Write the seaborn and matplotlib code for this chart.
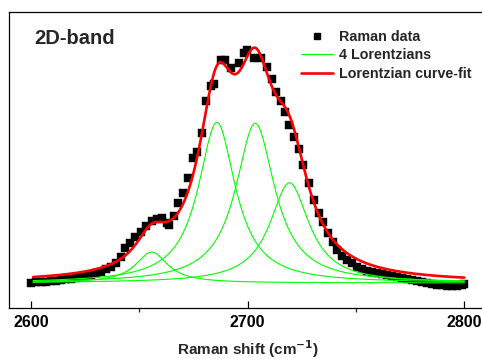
import numpy as np
import pandas as pd
import matplotlib
matplotlib.use("Agg")
import matplotlib.pyplot as plt
from matplotlib.lines import Line2D
from matplotlib.ticker import MultipleLocator
import seaborn as sns

# Measured Raman spectrum of the 2D band (normalised intensity)
raman_shift = [
    2600.0, 2602.3, 2604.6, 2606.9, 2609.2, 2611.5, 2613.8, 2616.1, 2618.4, 2620.7,
    2623.0, 2625.3, 2627.6, 2629.9, 2632.2, 2634.5, 2636.8, 2639.1, 2641.4, 2643.6,
    2645.7, 2648.0, 2650.7, 2653.1, 2655.8, 2658.1, 2660.4, 2662.7, 2663.9, 2666.1,
    2668.0, 2670.1, 2672.4, 2674.7, 2676.5, 2678.8, 2680.8, 2683.0, 2684.5, 2687.6,
    2689.6, 2692.2, 2695.8, 2698.1, 2699.9, 2702.7, 2706.1, 2708.9, 2711.2, 2713.2,
    2715.3, 2717.3, 2718.9, 2721.2, 2723.9, 2725.5, 2728.1, 2730.4, 2732.7, 2735.0,
    2737.3, 2739.6, 2741.2, 2743.5, 2745.8, 2748.1, 2750.4, 2752.7, 2755.0, 2757.3,
    2759.6, 2761.9, 2764.2, 2766.5, 2768.8, 2771.1, 2773.4, 2775.7, 2778.0, 2780.3,
    2782.6, 2784.9, 2787.2, 2789.5, 2791.8, 2794.1, 2796.4, 2798.7, 2800.0,
]
intensity = [
    0.000, 0.002, 0.004, 0.006, 0.008, 0.010, 0.012, 0.015, 0.018, 0.021,
    0.025, 0.029, 0.035, 0.041, 0.048, 0.057, 0.068, 0.082, 0.110, 0.146,
    0.167, 0.192, 0.216, 0.239, 0.262, 0.268, 0.272, 0.253, 0.244, 0.282,
    0.335, 0.377, 0.440, 0.524, 0.552, 0.630, 0.765, 0.829, 0.835, 0.937,
    0.937, 0.902, 0.923, 0.965, 0.979, 0.944, 0.947, 0.909, 0.856, 0.804,
    0.765, 0.718, 0.662, 0.615, 0.562, 0.496, 0.419, 0.349, 0.293, 0.258,
    0.209, 0.174, 0.139, 0.115, 0.097, 0.082, 0.068, 0.060, 0.052, 0.046,
    0.041, 0.037, 0.034, 0.030, 0.026, 0.022, 0.018, 0.014, 0.009, 0.005,
    0.001, -0.004, -0.008, -0.010, -0.012, -0.013, -0.012, -0.008, -0.004,
]

# Fitted Lorentzian components: centre, amplitude, half width at half maximum
peak_centre = [2655.7, 2685.8, 2703.5, 2719.3]
peak_height = [0.130, 0.675, 0.671, 0.421]
peak_hwhm = [9.0, 10.5, 11.0, 11.0]

fit_range = (2601.0, 2800.0)
x_ticks = [2600, 2700, 2800]

sns.set_theme(style="white")
plt.rcParams["font.family"] = ["Liberation Sans", "DejaVu Sans"]
plt.rcParams["font.weight"] = "bold"
plt.rcParams["mathtext.default"] = "bf"

W, H = 482, 359
fig = plt.figure(figsize=(W / 100, H / 100), dpi=100)
left_px, right_px, top_px, bottom_px = 9.3, 486.0, 12.0, 307.7
ax = fig.add_axes([left_px / W, 1 - bottom_px / H,
                   (right_px - left_px) / W, (bottom_px - top_px) / H])

grid = np.linspace(fit_range[0], fit_range[1], 800)
components = []
for c, a, g in zip(peak_centre, peak_height, peak_hwhm):
    components.append(a / (1.0 + ((grid - c) / g) ** 2))
fit_total = np.sum(components, axis=0)

spec = pd.DataFrame({"shift": raman_shift, "intensity": intensity})
comp = pd.DataFrame({
    "shift": np.tile(grid, len(components)),
    "intensity": np.concatenate(components),
    "peak": np.repeat(np.arange(len(components)), len(grid)),
})
fit = pd.DataFrame({"shift": grid, "intensity": fit_total})

sns.scatterplot(data=spec, x="shift", y="intensity", ax=ax, marker="s",
                s=26, color="black", edgecolor="black", linewidth=0.3,
                legend=False, zorder=2)
sns.lineplot(data=comp, x="shift", y="intensity", units="peak",
             estimator=None, ax=ax, color="#00ff00", linewidth=0.8,
             legend=False, zorder=3)
sns.lineplot(data=fit, x="shift", y="intensity", ax=ax, color="#ff0000",
             linewidth=1.9, legend=False, zorder=4)

ax.set_xlim(2590, 2810)
ax.set_ylim(-0.104, 1.139)
ax.set_yticks([])
ax.set_ylabel("")
ax.set_xticks(x_ticks)
ax.set_xticklabels([str(t) for t in x_ticks], fontsize=11.5, fontweight="bold")
ax.xaxis.set_minor_locator(MultipleLocator(50))
ax.tick_params(axis="x", which="major", direction="in", length=5, width=0.9,
               bottom=True, pad=5, colors="black")
ax.tick_params(axis="x", which="minor", direction="out", length=3, width=0.9,
               bottom=True)
for s in ax.spines.values():
    s.set_color("black")
    s.set_linewidth(0.9)

ax.set_xlabel("Raman shift (cm$^{-1}$)", fontsize=11, fontweight="bold",
              labelpad=6)

ax.text(0.052, 0.909, "2D-band", transform=ax.transAxes, fontsize=14.5,
        fontweight="bold", ha="left", va="center")

handles = [
    Line2D([], [], marker="s", linestyle="none", color="black", markersize=5),
    Line2D([], [], color="#00ff00", linewidth=0.9),
    Line2D([], [], color="#ff0000", linewidth=1.9),
]
labels = ["Raman data", "4 Lorentzians", "Lorentzian curve-fit"]
ax.legend(handles, labels, loc="upper left", bbox_to_anchor=(0.6, 0.958),
          frameon=False, handlelength=2.2, handletextpad=0.45,
          labelspacing=0.3, borderaxespad=0, prop={"weight": "bold", "size": 10.3})

fig.savefig("out.png", dpi=100)
